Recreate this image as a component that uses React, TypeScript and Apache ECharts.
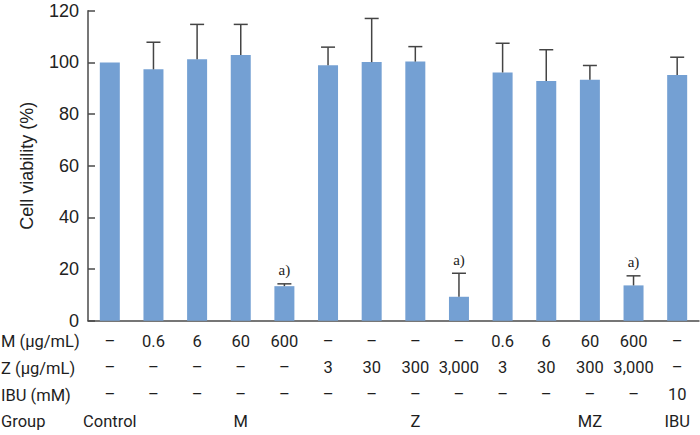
import React, { useEffect, useRef } from "react";
import * as echarts from "echarts";

const categories = ["c1", "c2", "c3", "c4", "c5", "c6", "c7", "c8", "c9", "c10", "c11", "c12", "c13", "c14"];
const mRow = ["–", "0.6", "6", "60", "600", "–", "–", "–", "–", "0.6", "6", "60", "600", "–"];
const zRow = ["–", "–", "–", "–", "–", "3", "30", "300", "3,000", "3", "30", "300", "3,000", "–"];
const ibuRow = ["–", "–", "–", "–", "–", "–", "–", "–", "–", "–", "–", "–", "–", "10"];
const groupRow = ["Control", "", "", "M", "", "", "", "Z", "", "", "", "MZ", "", "IBU"];
const rowLabels = ["M (μg/mL)", "Z (μg/mL)", "IBU (mM)", "Group"];
const means = [100, 97.3, 101.2, 102.9, 13.4, 98.9, 100.1, 100.3, 9.3, 96.1, 92.8, 93.3, 13.7, 95.1];
const uppers = [100, 107.8, 114.7, 114.7, 14.3, 105.9, 117, 106.1, 18.4, 107.4, 104.9, 98.8, 17.4, 102];
const marks = ["", "", "", "", "a)", "", "", "", "a)", "", "", "", "a)", ""];
const yTicks = [0, 20, 40, 60, 80, 100, 120];

export default function App() {
  const ref = useRef<HTMLDivElement>(null);
  useEffect(() => {
    const chart = echarts.init(ref.current!, null, { renderer: "svg" });
    const axisColor = "#4a4a4a";
    const rowY = [343, 370, 397, 423];
    chart.setOption({
      animation: false,
      grid: { left: 88, right: 1, top: 10.7, bottom: 112.5, containLabel: false },
      xAxis: {
        type: "category",
        data: categories,
        axisLine: { lineStyle: { color: axisColor, width: 1.5 } },
        axisTick: { inside: true, length: 7, lineStyle: { color: axisColor, width: 1.5 } },
        axisLabel: {
          interval: 0,
          hideOverlap: false,
          margin: 7,
          lineHeight: 26.8,
          fontFamily: "Roboto",
          fontSize: 16.5,
          color: "#1e1e1e",
          formatter: (_v: string, i: number) =>
            [mRow[i], zRow[i], ibuRow[i], groupRow[i] || " "].join("\n"),
        },
      },
      yAxis: {
        type: "value",
        min: 0,
        max: 120,
        interval: 20,
        name: "Cell viability (%)",
        nameLocation: "middle",
        nameGap: 52,
        nameTextStyle: { fontFamily: "Liberation Sans", fontSize: 18, color: "#222" },
        axisLine: { show: true, lineStyle: { color: axisColor, width: 1.5 } },
        axisTick: { show: true, inside: true, length: 7, lineStyle: { color: axisColor, width: 1.5 } },
        splitLine: { show: false },
        axisLabel: {
          margin: 9,
          fontFamily: "Liberation Sans",
          fontSize: 18,
          color: "#222",
          formatter: (v: number) => (yTicks.includes(v) ? String(v) : ""),
        },
      },
      graphic: rowLabels.map((t, i) => ({
        type: "text",
        left: 1,
        top: rowY[i] - 10,
        style: { text: t, fontFamily: "Roboto", fontSize: 16.5, fill: "#1e1e1e" },
      })),
      series: [
        {
          type: "bar",
          data: means,
          barWidth: 20,
          itemStyle: { color: "#74a0d3" },
          z: 2,
        },
        {
          type: "custom",
          z: 3,
          data: means.map((m, i) => [i, m, uppers[i]]),
          renderItem: (params: any, api: any) => {
            const i = api.value(0);
            const top = api.coord([i, api.value(1)]);
            const up = api.coord([i, api.value(2)]);
            const children: any[] = [];
            const stroke = { stroke: "#444", lineWidth: 1.5 };
            if (api.value(2) > api.value(1)) {
              children.push({ type: "line", shape: { x1: top[0], y1: top[1], x2: up[0], y2: up[1] }, style: stroke });
              children.push({ type: "line", shape: { x1: up[0] - 7, y1: up[1], x2: up[0] + 7, y2: up[1] }, style: stroke });
            }
            if (marks[params.dataIndex]) {
              children.push({
                type: "text",
                x: up[0],
                y: up[1] - 6,
                style: {
                  text: marks[params.dataIndex],
                  fontFamily: "Liberation Serif",
                  fontSize: 15,
                  fill: "#222",
                  align: "center",
                  verticalAlign: "bottom",
                },
              });
            }
            return { type: "group", children };
          },
        },
      ],
    });
    return () => chart.dispose();
  }, []);
  return <div ref={ref} style={{ position: "absolute", left: 0, top: 0, width: 700, height: 435 }} />;
}
